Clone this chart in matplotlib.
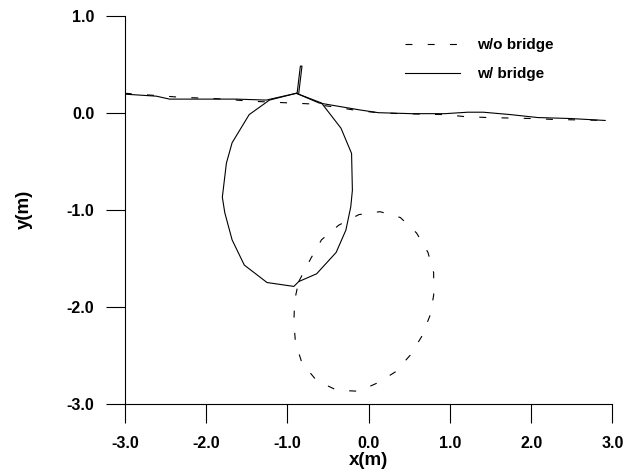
import matplotlib
matplotlib.use("Agg")
import matplotlib.pyplot as plt

plt.rcParams['font.family'] = ['Liberation Sans', 'DejaVu Sans']
plt.rcParams['lines.scale_dashes'] = False

# free surface without bridge
surf_wo_x = [-3.0, -2.33, -1.76, -1.49, -0.96, -0.70, -0.43, -0.12, 0.12, 0.39, 0.94, 1.18, 1.47, 2.00, 2.29, 2.94]
surf_wo_y = [0.20, 0.16, 0.14, 0.12, 0.10, 0.09, 0.06, 0.02, 0.0, -0.01, -0.02, -0.04, -0.05, -0.06, -0.07, -0.08]

# free surface with bridge
surf_w_x = [-2.98, -2.61, -2.45, -2.04, -1.63, -1.26, -0.89, -0.61, -0.12, 0.12, 0.53, 0.94, 1.22, 1.41, 1.75, 2.08, 2.48, 2.91]
surf_w_y = [0.19, 0.17, 0.14, 0.14, 0.14, 0.13, 0.20, 0.10, 0.03, 0.0, -0.01, -0.01, 0.005, 0.005, -0.02, -0.05, -0.06, -0.08]

# contour with bridge
loop_w_x = [-0.89, -1.22, -1.47, -1.68, -1.75, -1.80, -1.77, -1.68, -1.53, -1.25, -0.92, -0.86, -0.64, -0.40, -0.28, -0.22, -0.20, -0.21, -0.34, -0.58, -0.89]
loop_w_y = [0.20, 0.13, -0.02, -0.31, -0.52, -0.87, -1.03, -1.31, -1.57, -1.75, -1.79, -1.74, -1.66, -1.44, -1.21, -0.97, -0.80, -0.42, -0.16, 0.10, 0.20]

# contour without bridge
loop_wo_x = [-0.86, -0.71, -0.58, -0.37, -0.12, 0.14, 0.39, 0.59, 0.73, 0.80, 0.80, 0.76, 0.65, 0.51, 0.33, 0.12, -0.12, -0.39, -0.64, -0.82, -0.90, -0.92, -0.91, -0.86]
loop_wo_y = [-1.74, -1.50, -1.31, -1.16, -1.05, -1.02, -1.08, -1.24, -1.44, -1.65, -1.88, -2.08, -2.31, -2.50, -2.67, -2.78, -2.87, -2.86, -2.76, -2.58, -2.37, -2.16, -1.93, -1.74]

# bridge pier
pier_x = [-0.88, -0.84, -0.82, -0.86]
pier_y = [0.20, 0.48, 0.48, 0.20]

xticks = [-3.0, -2.0, -1.0, 0.0, 1.0, 2.0, 3.0]
yticks = [-3.0, -2.0, -1.0, 0.0, 1.0]

fig = plt.figure(figsize=(6.4, 4.74), dpi=100)
ax = fig.add_axes([0.195, 0.148, 0.762, 0.819])

dash = (0, (5, 11))
ax.plot(surf_wo_x, surf_wo_y, color='black', lw=0.8, linestyle=dash, label='w/o bridge')
ax.plot(surf_w_x, surf_w_y, color='black', lw=0.8, label='w/ bridge')
ax.plot(loop_w_x, loop_w_y, color='black', lw=0.8)
ax.plot(loop_wo_x, loop_wo_y, color='black', lw=0.8, linestyle=dash)
ax.plot(pier_x, pier_y, color='black', lw=0.8)

ax.set_xlim(-3, 3)
ax.set_ylim(-3, 1)
ax.set_xticks(xticks)
ax.set_yticks(yticks)
ax.set_xticklabels([f"{t:.1f}" for t in xticks], fontweight='bold', fontsize=11.5)
ax.set_yticklabels([f"{t:.1f}" for t in yticks], fontweight='bold', fontsize=11.5)
ax.tick_params(direction='out', length=14, width=0.8)
ax.tick_params(axis='x', pad=9)
ax.tick_params(axis='y', pad=8)
for s in ['top', 'right']:
    ax.spines[s].set_visible(False)
for s in ['left', 'bottom']:
    ax.spines[s].set_linewidth(0.8)

ax.set_xlabel('x(m)', fontsize=13.5, fontweight='bold', labelpad=1)
ax.set_ylabel('y(m)', fontsize=13.5, fontweight='bold', labelpad=24)

leg = ax.legend(loc='upper left', bbox_to_anchor=(0.547, 0.978), frameon=False,
                handlelength=3.6, handletextpad=1.1, labelspacing=1.0,
                prop={'weight': 'bold', 'size': 11})

fig.savefig('out.png', dpi=100)
